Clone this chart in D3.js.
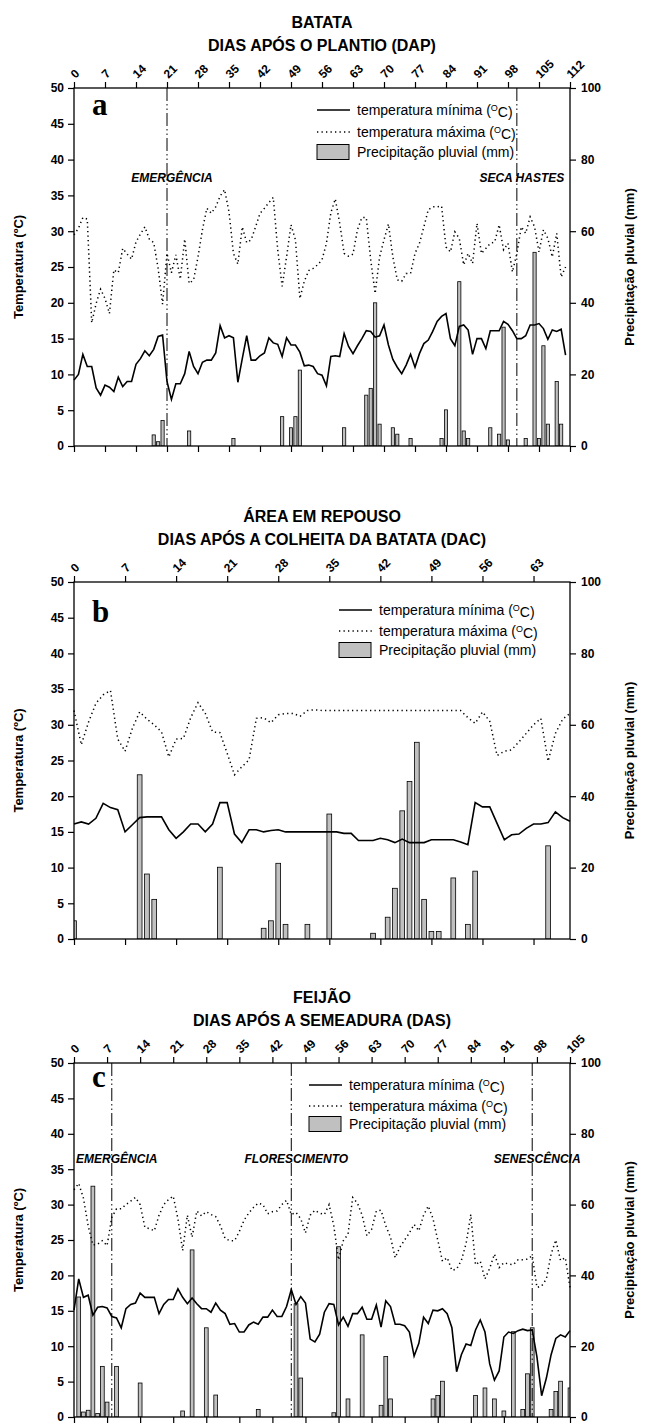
<!DOCTYPE html>
<html>
<head>
<meta charset="utf-8">
<script src="https://cdn.jsdelivr.net/npm/d3@7"></script>
<style>
    body { margin: 0; background: #fff; }
    svg { display: block; font-family: Arial, "Liberation Sans", sans-serif; }
    .axis text { font-size: 12px; font-weight: bold; fill: #000; }
    .axis line { stroke: #000; stroke-width: 1.2; }
    .axis path { display: none; }
    .title { font-size: 16px; font-weight: bold; text-anchor: middle; }
    .ytitle { font-size: 13px; font-weight: bold; text-anchor: middle; }
    .legend { font-size: 14px; }
    .phase { font-size: 12px; font-weight: bold; font-style: italic; text-anchor: middle; }
    .letter { font-family: "Liberation Serif", "Times New Roman", serif; font-size: 31px; font-weight: bold; }
</style>
</head>
<body>
<svg id="chart" width="645" height="1425"></svg>
<script>
// ---- data: panel a (batata), days 0..111 ----
const tminA = [9.2, 10.0, 12.8, 11.1, 11.1, 8.1, 7.1, 8.5, 8.2, 7.6, 9.6, 8.3, 9.0, 9.0, 11.4, 12.2, 13.3, 12.6, 13.5, 15.3,
    15.5, 9.0, 6.5, 8.7, 8.7, 10.1, 13.2, 11.1, 10.1, 11.7, 12.0, 12.0, 13.0, 16.8, 15.1, 15.4, 15.1, 8.9, 12.2, 15.4,
    12.0, 12.0, 12.6, 13.0, 15.1, 14.4, 14.2, 12.5, 15.1, 14.1, 14.1, 13.1, 11.2, 11.3, 11.1, 10.1, 9.9, 8.4, 12.5, 12.6,
    12.5, 15.7, 13.9, 12.9, 14.0, 15.0, 16.1, 16.0, 15.2, 15.4, 16.9, 14.1, 12.1, 11.0, 10.1, 11.3, 12.8, 11.0, 12.9, 14.3,
    14.8, 16.0, 17.4, 18.1, 18.5, 15.0, 14.0, 16.7, 16.9, 16.2, 12.8, 15.0, 15.0, 13.6, 16.1, 16.1, 16.1, 17.4, 17.0, 16.1,
    15.0, 15.0, 15.4, 16.9, 16.9, 17.1, 16.4, 14.9, 16.2, 16.0, 16.3, 12.7];
const tmaxA = [29.5, 30.4, 31.9, 31.7, 17.2, 19.9, 21.9, 20.6, 18.5, 24.6, 24.2, 27.6, 26.8, 26.1, 28.5, 29.6, 30.6, 28.9, 28.4, 24.8,
    19.8, 26.9, 24.2, 26.7, 23.3, 28.9, 22.7, 23.2, 26.4, 30.2, 33.2, 32.5, 33.4, 34.9, 35.8, 32.7, 26.9, 25.4, 30.6, 28.4,
    28.8, 30.6, 32.5, 33.2, 34.0, 34.7, 27.4, 22.3, 26.4, 30.9, 28.8, 20.6, 23.0, 24.5, 24.8, 25.3, 26.0, 28.3, 32.6, 34.5,
    31.1, 26.9, 26.5, 26.8, 30.2, 31.9, 31.9, 26.0, 21.3, 26.4, 28.8, 31.0, 26.4, 23.2, 23.0, 24.1, 24.1, 26.9, 28.3, 30.6,
    33.0, 33.4, 33.4, 33.5, 27.8, 27.1, 29.9, 29.0, 25.3, 26.9, 25.5, 31.1, 26.9, 27.6, 28.3, 28.5, 30.9, 27.4, 28.3, 24.3,
    26.9, 30.6, 29.7, 32.0, 30.6, 27.1, 30.2, 29.0, 26.4, 29.7, 23.6, 25.0];
const rainDaysA = [18, 19, 20, 26, 36, 47, 49, 50, 51, 61, 66, 67, 68, 69, 72, 73, 76, 83, 84, 87, 88, 89, 94, 96, 97, 98,
    102, 104, 105, 106, 107, 109, 110];
const rainA = [3.1, 1.2, 7.1, 4.2, 2.1, 8.2, 5.1, 8.2, 21.2, 5.1, 14.2, 16.1, 40.0, 6.1, 5.1, 3.3, 2.1, 2.1, 10.1, 45.9, 4.2, 2.1,
    5.1, 3.3, 33.2, 1.7, 2.1, 54.1, 2.1, 28.0, 6.1, 18.0, 6.1];
const ticksA = [0, 7, 14, 21, 28, 35, 42, 49, 56, 63, 70, 77, 84, 91, 98, 105, 112];
const phaseDaysA = [21, 100];
const phaseNamesA = ["EMERGÊNCIA", "SECA HASTES"];

// ---- data: panel b (área em repouso), days 0..68 ----
const tminB = [16.1, 16.4, 16.1, 16.9, 19.0, 18.4, 18.1, 15.0, 16.0, 17.0, 17.1, 17.1, 17.1, 15.3, 14.1, 15.0, 16.1, 16.1, 15.0, 16.1,
    19.1, 19.1, 14.7, 13.5, 15.3, 15.3, 15.0, 15.2, 15.3, 15.0, 15.0, 15.0, 15.0, 15.0, 15.0, 15.0, 15.0, 14.8, 14.8, 13.8,
    13.8, 13.8, 14.1, 13.9, 13.5, 14.0, 13.5, 13.5, 13.5, 13.9, 13.9, 13.9, 13.9, 13.6, 13.2, 19.1, 18.5, 18.5, 16.2, 13.9,
    14.6, 14.7, 15.5, 16.1, 16.1, 16.3, 17.8, 17.0, 16.5];
const tmaxB = [32.0, 27.2, 30.4, 33.0, 34.2, 34.8, 28.0, 26.3, 29.5, 31.8, 30.8, 30.0, 29.0, 25.5, 28.0, 28.1, 31.0, 33.1, 31.6, 29.0,
    28.9, 26.0, 23.0, 24.1, 25.1, 30.9, 31.0, 30.3, 31.4, 31.6, 31.6, 31.2, 32.0, 32.1, 32.0, 32.0, 32.0, 32.0, 32.0, 32.0,
    32.0, 32.0, 32.0, 32.0, 32.0, 32.0, 32.0, 32.0, 32.0, 32.0, 32.0, 32.0, 32.0, 32.0, 31.0, 30.2, 31.8, 30.5, 25.7, 26.3,
    26.5, 27.6, 28.8, 30.0, 30.9, 24.9, 28.8, 30.8, 31.6];
const rainDaysB = [0, 9, 10, 11, 20, 26, 27, 28, 29, 32, 35, 41, 43, 44, 45, 46, 47, 48, 49, 50, 52, 54, 55, 65];
const rainB = [5.1, 46.0, 18.2, 11.1, 20.1, 3.0, 5.1, 21.2, 4.1, 4.1, 35.0, 1.6, 6.1, 14.2, 35.9, 44.1, 55.1, 11.1, 2.1, 2.1,
    17.1, 4.1, 19.0, 26.1];
const ticksB = [0, 7, 14, 21, 28, 35, 42, 49, 56, 63];

// ---- data: panel c (feijão), days 0..105 ----
const tminC = [15.1, 19.5, 16.9, 17.2, 14.4, 15.5, 15.6, 15.4, 14.2, 14.0, 12.6, 15.3, 15.9, 16.1, 17.5, 16.9, 16.9, 16.9, 14.6, 15.9,
    16.6, 16.6, 18.1, 16.9, 16.0, 16.8, 16.0, 15.3, 15.3, 14.8, 16.1, 15.1, 14.6, 13.1, 13.2, 12.0, 12.0, 13.0, 13.4, 13.1,
    14.1, 14.1, 15.1, 14.2, 14.2, 15.6, 18.0, 15.9, 17.0, 16.1, 11.0, 10.6, 11.7, 14.8, 16.0, 15.9, 13.0, 14.1, 12.8, 14.6,
    14.6, 15.5, 13.8, 13.8, 15.8, 12.7, 16.4, 15.6, 13.1, 13.1, 12.9, 12.0, 8.6, 10.4, 14.1, 13.2, 15.1, 15.0, 15.3, 14.6,
    12.6, 6.4, 8.8, 10.3, 10.1, 12.3, 13.7, 12.0, 7.5, 5.2, 6.5, 11.3, 12.0, 11.8, 12.2, 12.4, 12.2, 12.3, 8.5, 3.0,
    5.5, 8.8, 11.1, 11.6, 11.3, 12.2];
const tmaxC = [32.1, 33.0, 30.9, 27.0, 24.3, 24.4, 24.9, 24.2, 28.2, 29.4, 29.4, 30.0, 30.5, 31.0, 30.0, 26.8, 26.6, 26.3, 28.5, 30.0,
    30.7, 31.2, 28.0, 23.5, 28.5, 25.4, 29.1, 28.4, 29.0, 28.6, 28.3, 27.0, 25.2, 24.9, 24.9, 26.2, 27.8, 28.8, 29.6, 30.2,
    30.0, 28.7, 29.0, 29.1, 30.0, 30.6, 28.6, 28.9, 28.0, 26.0, 28.5, 29.2, 28.8, 28.6, 30.0, 27.0, 22.2, 24.9, 25.8, 31.0,
    30.2, 28.5, 25.6, 26.5, 29.1, 29.2, 27.0, 25.4, 22.5, 24.0, 25.0, 26.0, 27.2, 26.3, 28.5, 29.8, 28.0, 25.0, 22.0, 22.5,
    20.7, 20.9, 22.1, 24.5, 28.6, 21.5, 22.0, 19.5, 21.0, 23.0, 21.1, 21.8, 21.6, 21.5, 22.2, 22.2, 22.3, 22.8, 18.3, 18.5,
    19.5, 23.0, 25.0, 22.1, 22.5, 18.3];
const rainDaysC = [1, 2, 3, 4, 5, 6, 7, 9, 14, 23, 25, 28, 30, 39, 47, 48, 55, 56, 58, 61, 65, 66, 67, 76, 77, 78, 85, 87, 89, 91,
    93, 95, 96, 97, 101, 102, 103, 105];
const rainC = [33.9, 1.4, 1.9, 65.2, 1.0, 14.3, 4.2, 14.3, 9.6, 1.7, 47.2, 25.2, 6.2, 2.1, 32.0, 11.0, 1.2, 48.1, 5.1, 23.2, 3.3,
    17.1, 5.1, 5.1, 6.1, 10.1, 6.1, 8.2, 5.1, 1.7, 24.1, 2.1, 12.2, 25.2, 2.1, 7.2, 10.1, 8.2];
const ticksC = [0, 7, 14, 21, 28, 35, 42, 49, 56, 63, 70, 77, 84, 91, 98, 105];
const phaseDaysC = [8, 46, 97];
const phaseNamesC = ["EMERGÊNCIA", "FLORESCIMENTO", "SENESCÊNCIA"];

const tempTicks = [0, 5, 10, 15, 20, 25, 30, 35, 40, 45, 50];
const rainTicks = [0, 20, 40, 60, 80, 100];

const plotLeft = 74, plotRight = 570;
const svg = d3.select("#chart");

function drawPanel(p) {
    const g = svg.append("g");
    const x = d3.scaleLinear().domain([0, p.maxDay]).range([plotLeft, plotRight]);
    const yT = d3.scaleLinear().domain([0, 50]).range([p.bottom, p.top]);
    const yP = d3.scaleLinear().domain([0, 100]).range([p.bottom, p.top]);
    const bw = (x(1) - x(0)) * p.barFrac;

    g.append("clipPath").attr("id", "clip-" + p.id)
        .append("rect")
        .attr("x", plotLeft).attr("y", p.top)
        .attr("width", plotRight - plotLeft).attr("height", p.bottom - p.top);

    // titles above the top axis
    g.append("text").attr("class", "title").attr("x", (plotLeft + plotRight) / 2).attr("y", p.top - 60).text(p.title1);
    g.append("text").attr("class", "title").attr("x", (plotLeft + plotRight) / 2).attr("y", p.top - 37).text(p.title2);

    // rain bars
    const rain = p.rainDays.map((d, i) => ({ day: d, mm: p.rain[i] }));
    g.append("g").attr("clip-path", "url(#clip-" + p.id + ")")
        .selectAll("rect")
        .data(rain)
        .enter()
        .append("rect")
        .attr("x", d => x(d.day) - bw / 2)
        .attr("y", d => yP(d.mm))
        .attr("width", bw)
        .attr("height", d => yP(0) - yP(d.mm))
        .style("fill", "#c0c0c0")
        .style("stroke", "#000")
        .style("stroke-width", 0.8);

    // temperature lines
    const line = d3.line().x((d, i) => x(i)).y(d => yT(d));
    g.append("path").datum(p.tmin).attr("d", line)
        .style("fill", "none").style("stroke", "#000").style("stroke-width", 1.6);
    g.append("path").datum(p.tmax).attr("d", line)
        .style("fill", "none").style("stroke", "#000").style("stroke-width", 1.5)
        .style("stroke-dasharray", "1.3,3.2");

    // phase lines and labels
    (p.phaseDays || []).forEach((d, i) => {
        g.append("line")
            .attr("x1", x(d)).attr("x2", x(d))
            .attr("y1", p.top).attr("y2", p.bottom)
            .style("stroke", "#000").style("stroke-width", 1)
            .style("stroke-dasharray", "13,3,1.5,3,1.5,3");
        g.append("text").attr("class", "phase")
            .attr("x", x(d) + 5).attr("y", p.top + p.phaseY)
            .text(p.phaseNames[i]);
    });

    // axes
    g.append("g").attr("class", "axis")
        .attr("transform", `translate(${plotLeft},0)`)
        .call(d3.axisLeft(yT).tickValues(tempTicks).tickSize(6).tickSizeOuter(0).tickPadding(4));
    g.append("g").attr("class", "axis")
        .attr("transform", `translate(${plotRight},0)`)
        .call(d3.axisRight(yP).tickValues(rainTicks).tickSize(6).tickSizeOuter(0).tickPadding(5));
    g.append("g").attr("class", "axis")
        .attr("transform", `translate(0,${p.bottom})`)
        .call(d3.axisBottom(x).tickValues(p.ticks).tickSize(6).tickSizeOuter(0).tickFormat(""));
    const top = g.append("g").attr("class", "axis")
        .attr("transform", `translate(0,${p.top})`)
        .call(d3.axisTop(x).tickValues(p.ticks).tickSize(6).tickSizeOuter(0));
    top.selectAll("text")
        .attr("x", 0).attr("y", 0).attr("dy", "0.35em")
        .attr("text-anchor", "start")
        .attr("transform", "translate(-2,-12) rotate(-45)")
        .style("font-size", "12px");

    // frame
    g.append("rect")
        .attr("x", plotLeft).attr("y", p.top)
        .attr("width", plotRight - plotLeft).attr("height", p.bottom - p.top)
        .style("fill", "none").style("stroke", "#000").style("stroke-width", 1.3);

    // axis titles
    const mid = (p.top + p.bottom) / 2;
    g.append("text").attr("class", "ytitle")
        .attr("transform", `translate(23,${mid}) rotate(-90)`)
        .text("Temperatura (ºC)");
    g.append("text").attr("class", "ytitle")
        .attr("transform", `translate(634,${mid}) rotate(-90)`)
        .text("Precipitação pluvial (mm)");

    // panel letter
    g.append("text").attr("class", "letter")
        .attr("x", 92).attr("y", p.top + p.letterY).text(p.letter);

    // legend
    const lg = g.append("g").attr("class", "legend");
    const sx = p.legendX, tx = p.legendX + 40;
    const rows = p.legendRows.map(r => p.top + r);
    lg.append("line").attr("x1", sx).attr("x2", sx + 33).attr("y1", rows[0]).attr("y2", rows[0])
        .style("stroke", "#000").style("stroke-width", 1.6);
    lg.append("line").attr("x1", sx).attr("x2", sx + 33).attr("y1", rows[1]).attr("y2", rows[1])
        .style("stroke", "#000").style("stroke-width", 1.5).style("stroke-dasharray", "1.3,3.2");
    lg.append("rect").attr("x", sx).attr("y", rows[2] - 7.5).attr("width", 32).attr("height", 15)
        .style("fill", "#c0c0c0").style("stroke", "#000").style("stroke-width", 1);

    function degLabel(y, word) {
        const t = lg.append("text").attr("x", tx).attr("y", y).attr("dy", "0.35em");
        t.append("tspan").text("temperatura " + word + " (");
        t.append("tspan").attr("dy", "-0.4em").style("font-size", "9px").text("O");
        t.append("tspan").attr("dy", "0.4em").text("C)");
    }
    degLabel(rows[0], "mínima");
    degLabel(rows[1], "máxima");
    lg.append("text").attr("x", tx).attr("y", rows[2]).attr("dy", "0.35em").text("Precipitação pluvial (mm)");
}

drawPanel({
    id: "a", top: 88, bottom: 446, maxDay: 112, barFrac: 0.72,
    title1: "BATATA", title2: "DIAS APÓS O PLANTIO (DAP)",
    tmin: tminA, tmax: tmaxA, rainDays: rainDaysA, rain: rainA, ticks: ticksA,
    phaseDays: phaseDaysA, phaseNames: phaseNamesA, phaseY: 94,
    letter: "a", letterY: 27, legendX: 317, legendRows: [22, 44, 64]
});
drawPanel({
    id: "b", top: 582, bottom: 939, maxDay: 68, barFrac: 0.65,
    title1: "ÁREA EM REPOUSO", title2: "DIAS APÓS A COLHEITA DA BATATA (DAC)",
    tmin: tminB, tmax: tmaxB, rainDays: rainDaysB, rain: rainB, ticks: ticksB,
    letter: "b", letterY: 40, legendX: 339, legendRows: [28, 49, 68]
});
drawPanel({
    id: "c", top: 1063, bottom: 1417, maxDay: 105, barFrac: 0.8,
    title1: "FEIJÃO", title2: "DIAS APÓS A SEMEADURA (DAS)",
    tmin: tminC, tmax: tmaxC, rainDays: rainDaysC, rain: rainC, ticks: ticksC,
    phaseDays: phaseDaysC, phaseNames: phaseNamesC, phaseY: 100,
    letter: "c", letterY: 24, legendX: 309, legendRows: [22, 43, 61]
});
</script>
</body>
</html>
